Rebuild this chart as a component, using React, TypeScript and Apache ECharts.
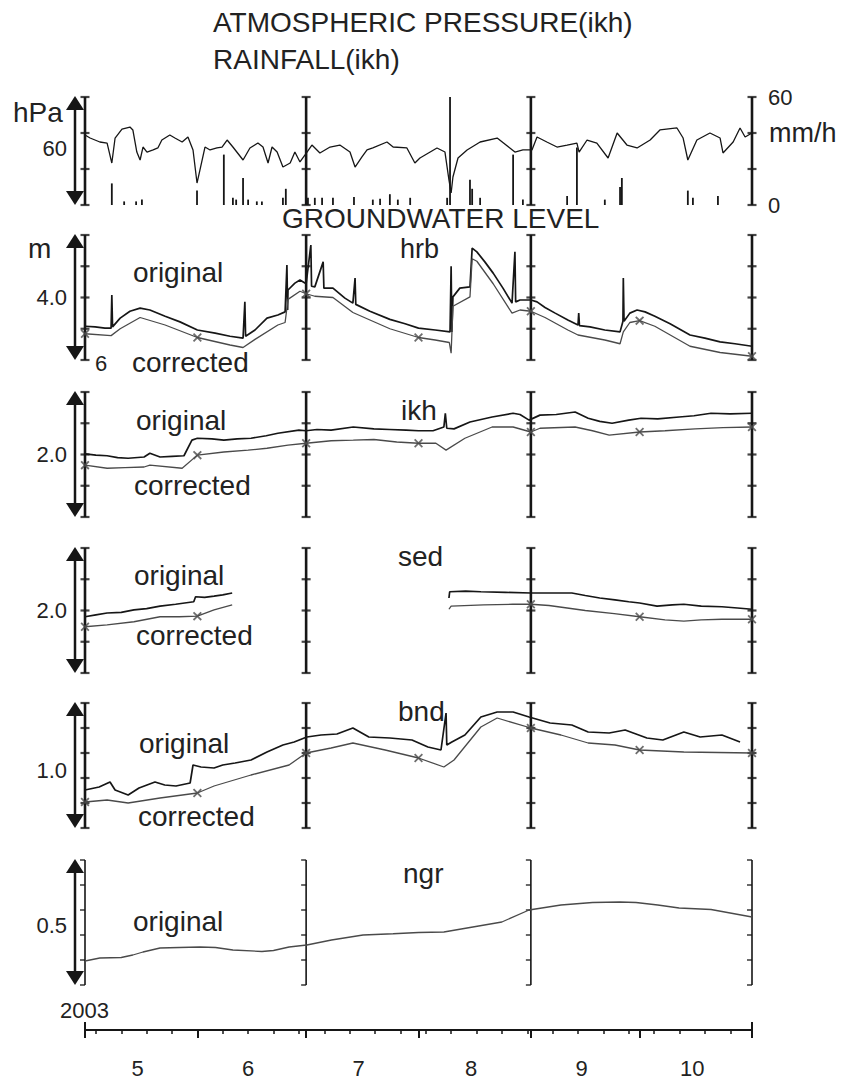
import React, { useEffect, useRef } from "react";
import * as echarts from "echarts";

// ---------- axis / calendar (days since 1 May 2003) ----------
const monthStarts = [0, 31, 61, 92, 123, 153, 184];
const monthMid = [14.5, 45, 75.5, 106.5, 137, 167.5];
const monthLabels = ["5", "6", "7", "8", "9", "10"];
const sundays: number[] = [];
for (let d = 3; d <= 184; d += 7) sundays.push(d);
const barDays = [0, 61, 123, 184];

// ---------- top panel ----------
const pressure: number[][] = [
  [0, 73.9], [1.4, 70.7], [4.1, 66.5], [6.1, 65.4], [7.4, 44.3], [8.3, 70.7], [10.2, 80.2], [12.4, 82.3],
  [13.2, 79.2], [14.3, 55.9], [15.2, 47.5], [16, 61.2], [17.1, 55.9], [18.8, 58.1], [20.1, 60.2], [21.2, 68.6],
  [23.4, 73.9], [24.8, 70.7], [26.8, 66.5], [28.4, 71.8], [29.8, 58.1], [30.9, 23.2], [31.7, 36.9], [33.1, 61.2],
  [34.5, 58.1], [36.4, 60.2], [37.8, 61.2], [39.2, 68.6], [40.8, 61.2], [43.6, 47.5], [45.5, 60.2], [47.7, 65.4],
  [49.1, 61.2], [50.5, 44.3], [51.6, 61.2], [53, 55.9], [54.6, 40.1], [56.6, 44.3], [57.9, 55.9], [59.3, 45.4],
  [60.7, 52.8], [62.6, 63.3], [64.8, 54.9], [67.6, 61.2], [70.3, 63.3], [73.1, 55.9], [74.5, 40.1], [76.4, 50.7],
  [77.8, 58.1], [79.4, 60.2], [83.3, 66.5], [85, 61.2], [88.8, 60.2], [91, 44.3], [92.4, 49.6], [97.1, 60.2],
  [99.3, 55.9], [100.4, 26.4], [101, 12.7], [101.5, 29.6], [102.9, 49.6], [105.4, 58.1], [109, 66.5], [113.7, 70.7],
  [117.2, 60.2], [118.6, 55.9], [120.8, 58.1], [123.3, 58.1], [124.7, 71.8], [127.4, 66.5], [130.2, 61.2], [133, 63.3],
  [135.7, 65.4], [136.3, 55.9], [138.5, 68.6], [141.2, 65.4], [144.3, 49.6], [146.8, 76.0], [149.5, 63.3], [152.3, 60.2],
  [155.9, 68.6], [158.6, 79.2], [163.3, 81.3], [165, 70.7], [166.3, 47.5], [168.8, 68.6], [172.4, 76.0], [175.2, 70.7],
  [176, 54.9], [178.8, 66.5], [180.7, 81.3], [182.1, 71.8], [184, 76.0],
];
const rainfall: number[][] = [
  [7.4, 12], [10.8, 2], [14.1, 2], [15.7, 3], [30.9, 8], [38.3, 28], [40.8, 4], [41.7, 3], [43.6, 15], [45, 3],
  [47.4, 2], [48.8, 2], [54.6, 4], [55.4, 9], [61.5, 4], [63.4, 4], [65.4, 4], [68.4, 4], [74.2, 4.5], [79.4, 3],
  [81.4, 3.5], [84.1, 6], [86.3, 3], [89.7, 4], [99.9, 4], [100.7, 60], [106.2, 14], [106.8, 9], [109, 4],
  [118.1, 28], [120.8, 3], [133, 5], [135.7, 32], [143.4, 3], [147.6, 10], [148.1, 15], [166.3, 8], [167.7, 4],
  [174.6, 5],
];

// ---------- groundwater ----------
const hrbOriginal: number[][] = [
  [0, 3.54], [2.8, 3.53], [5.5, 3.51], [7.2, 3.51], [7.4, 4.04], [7.6, 3.53], [9.7, 3.67], [12.4, 3.78], [15.2, 3.83],
  [17.9, 3.8], [22.1, 3.7], [26.2, 3.61], [31, 3.48], [35.9, 3.43], [40, 3.38], [43.6, 3.35], [44.1, 3.93], [44.3, 3.38],
  [46.9, 3.48], [50.2, 3.67], [53.2, 3.72], [55.2, 3.77], [55.7, 4.52], [55.9, 3.8], [56, 4.12], [57.9, 4.23],
  [59.3, 4.28], [61, 4.22], [62.3, 4.84], [62.5, 4.18], [63.4, 4.17], [65.7, 4.57], [65.9, 4.15], [68.4, 4.15],
  [71.7, 3.99], [73.9, 3.91], [74.5, 4.31], [74.7, 3.89], [78.6, 3.78], [84.1, 3.65], [88.3, 3.58], [92, 3.51],
  [96.6, 3.48], [100.7, 3.45], [101, 4.5], [101.2, 3.45], [101.5, 4.01], [103.4, 4.15], [106.2, 4.17], [106.8, 4.79],
  [108.1, 4.73], [110.3, 4.57], [112.6, 4.39], [115.3, 4.15], [117.8, 3.91], [118.6, 4.73], [118.8, 3.93], [120, 3.96],
  [123, 3.96], [124.7, 3.93], [126.9, 3.84], [129.7, 3.75], [133.2, 3.64], [136, 3.56], [136.2, 3.75], [136.4, 3.55],
  [139.3, 3.53], [143.4, 3.48], [147.6, 3.45], [148.4, 3.62], [148.5, 4.31], [148.7, 3.62], [150.3, 3.75], [152.3, 3.8],
  [154.5, 3.77], [157.2, 3.7], [161.4, 3.58], [166.9, 3.4], [171, 3.35], [175.2, 3.29], [179.3, 3.26], [184, 3.22],
];
const hrbCorrected: number[][] = [
  [0, 3.42], [7.2, 3.39], [9.7, 3.5], [15.2, 3.68], [22.1, 3.56], [31, 3.36], [40, 3.24], [43.6, 3.2], [46.9, 3.33],
  [53.2, 3.56], [55.2, 3.6], [56, 3.97], [59.3, 4.1], [61, 4.06], [63.4, 4.02], [68.4, 4.0], [73.9, 3.76], [78.6, 3.64],
  [84.1, 3.5], [92, 3.36], [96.6, 3.32], [100.5, 3.28], [101, 3.11], [101.5, 3.86], [106.2, 4.01], [106.8, 4.62],
  [108.1, 4.58], [112.6, 4.22], [117.8, 3.75], [120, 3.8], [123, 3.78], [126.9, 3.68], [133.2, 3.48], [136, 3.4],
  [143.4, 3.32], [147.6, 3.26], [148.5, 3.45], [150.3, 3.6], [153, 3.63], [157.2, 3.54], [166.9, 3.22], [175.2, 3.12],
  [184, 3.06],
];
const ikhOriginal: number[][] = [
  [0, 2.01], [3, 1.99], [6.1, 1.98], [9, 1.95], [11.9, 1.94], [16.3, 1.96], [17.9, 2.02], [20.7, 1.96], [24, 1.97],
  [27.3, 1.98], [29.5, 2.23], [31, 2.26], [35, 2.25], [38.3, 2.23], [42, 2.25], [45.8, 2.26], [50, 2.3], [53.2, 2.34],
  [59, 2.39], [61, 2.38], [64, 2.4], [67.9, 2.39], [74, 2.44], [79.7, 2.41], [84, 2.4], [88.6, 2.39], [92, 2.38],
  [96, 2.38], [99, 2.44], [99.4, 2.66], [99.8, 2.42], [101.8, 2.41], [106.2, 2.52], [112.3, 2.6], [118.1, 2.66],
  [120, 2.64], [122.5, 2.55], [125.5, 2.63], [130, 2.64], [135.2, 2.68], [138.8, 2.58], [142, 2.53], [145.4, 2.5],
  [150, 2.55], [153.4, 2.58], [158, 2.57], [163.9, 2.6], [168, 2.62], [172.7, 2.66], [178, 2.65], [184, 2.66],
];
const ikhCorrected: number[][] = [
  [0, 1.83], [6.1, 1.78], [11, 1.79], [16.3, 1.8], [17.9, 1.83], [26.8, 1.78], [31, 1.99], [38.3, 2.04], [45, 2.07],
  [50.2, 2.1], [56, 2.15], [61, 2.18], [67.9, 2.22], [74, 2.23], [79.7, 2.24], [86, 2.2], [92, 2.18], [96.8, 2.18],
  [99.6, 2.07], [104.8, 2.26], [112.3, 2.44], [118.1, 2.44], [123, 2.36], [125.5, 2.42], [135.2, 2.44], [140, 2.38],
  [144.6, 2.31], [153, 2.36], [160, 2.38], [168.3, 2.41], [176, 2.43], [184, 2.44],
];
const sedOriginalMay: number[][] = [
  [0, 1.9], [3, 1.93], [6.1, 1.96], [10, 1.97], [13.5, 2.01], [17, 2.03], [20.7, 2.07], [25, 2.1], [30, 2.14],
  [30.5, 2.22], [33, 2.21], [35.6, 2.23], [38, 2.25], [40.6, 2.28],
];
const sedOriginalAug: number[][] = [
  [100.4, 2.2], [100.6, 2.3], [105, 2.31], [109.2, 2.3], [116, 2.29], [123, 2.28], [128, 2.28], [134.3, 2.28],
  [138, 2.24], [142, 2.2], [146.2, 2.17], [150, 2.14], [153, 2.12], [157.8, 2.07], [162, 2.09], [165.2, 2.1],
  [170, 2.07], [175.7, 2.06], [180, 2.04], [184, 2.02],
];
const sedCorrectedMay: number[][] = [
  [0, 1.74], [6.1, 1.77], [13.5, 1.82], [20.7, 1.9], [26, 1.9], [31, 1.91], [35.6, 2.01], [40.6, 2.09],
];
const sedCorrectedAug: number[][] = [
  [100.4, 2.02], [101, 2.07], [110, 2.09], [118, 2.1], [123, 2.1], [128, 2.08], [133, 2.04], [138, 2.0], [146, 1.95],
  [153, 1.9], [160, 1.85], [165.2, 1.83], [170, 1.85], [175.7, 1.86], [184, 1.86],
];
const bndOriginal: number[][] = [
  [0, 0.8], [3.9, 0.83], [6.9, 0.88], [8.3, 0.8], [11.9, 0.75], [14.9, 0.82], [19.3, 0.88], [22, 0.85], [25.1, 0.84],
  [29, 0.87], [29.8, 1.05], [32, 1.03], [35.6, 1.02], [38, 1.05], [41.4, 1.07], [45.8, 1.1], [50.2, 1.18],
  [54.6, 1.25], [57.7, 1.28], [61.2, 1.33], [65.1, 1.35], [69.5, 1.36], [73.9, 1.42], [78.3, 1.33], [84.1, 1.32],
  [90.2, 1.3], [94.6, 1.23], [98.2, 1.2], [99.6, 1.57], [99.8, 1.25], [101.2, 1.28], [104.8, 1.35], [109.2, 1.53],
  [113.7, 1.58], [118.1, 1.58], [122.5, 1.53], [128.3, 1.47], [134.3, 1.45], [138.8, 1.38], [144.6, 1.37], [149, 1.4],
  [155, 1.32], [159.4, 1.3], [165.2, 1.38], [169.7, 1.33], [175.7, 1.35], [180.7, 1.28],
];
const bndCorrected: number[][] = [
  [0, 0.68], [6.1, 0.7], [11.9, 0.67], [20.7, 0.72], [31, 0.77], [35.6, 0.84], [45.8, 0.95], [56.3, 1.05], [61, 1.17],
  [67.9, 1.22], [73.9, 1.27], [82.8, 1.2], [92, 1.12], [99, 1.03], [101.8, 1.1], [109.2, 1.43], [113.7, 1.52],
  [123, 1.42], [131.3, 1.35], [138.8, 1.27], [146.2, 1.25], [153, 1.2], [165.2, 1.18], [184, 1.17],
];
const ngrOriginal: number[][] = [
  [0, 0.356], [4.1, 0.368], [10, 0.37], [13.2, 0.38], [16, 0.392], [20.7, 0.408], [26, 0.41], [31.7, 0.412],
  [36, 0.41], [40.8, 0.4], [48.8, 0.394], [52, 0.398], [56.3, 0.412], [61.2, 0.42], [68, 0.44], [76.7, 0.46],
  [85, 0.465], [92, 0.47], [99, 0.472], [106.2, 0.49], [115, 0.512], [122.5, 0.56], [131.3, 0.58], [140, 0.59],
  [147.6, 0.592], [152, 0.59], [158, 0.58], [163.9, 0.568], [172.7, 0.562], [184, 0.532],
];

// ---------- layout ----------
const FONT = '"Liberation Sans", Arial, Helvetica, sans-serif';
const INK = "#161616";
const GRAY = "#4a4a4a";
const PANELS = [
  { top: 97, height: 108 },
  { top: 235, height: 125 },
  { top: 392, height: 125 },
  { top: 548, height: 125 },
  { top: 703, height: 125 },
  { top: 860, height: 125 },
];
const Y_AXES = [
  { grid: 0, min: 0, max: 114, labels: [60], pos: "left", fmt: (v: number) => String(v), ticks: null as number[] | null },
  { grid: 0, min: 0, max: 60, labels: [0, 60], pos: "right", fmt: (v: number) => String(v), ticks: [0, 20, 40, 60] },
  { grid: 1, min: 3, max: 5, labels: [4], pos: "left", fmt: (v: number) => v.toFixed(1), ticks: [3, 3.5, 4, 4.5, 5] },
  { grid: 2, min: 1, max: 3, labels: [2], pos: "left", fmt: (v: number) => v.toFixed(1), ticks: [1, 1.5, 2, 2.5, 3] },
  { grid: 3, min: 1, max: 3, labels: [2], pos: "left", fmt: (v: number) => v.toFixed(1), ticks: [1, 1.5, 2, 2.5, 3] },
  { grid: 4, min: 0.42, max: 1.67, labels: [1], pos: "left", fmt: (v: number) => v.toFixed(1), ticks: [0.42, 0.67, 0.92, 1.17, 1.42, 1.67] },
  { grid: 5, min: 0.26, max: 0.76, labels: [0.5], pos: "left", fmt: (v: number) => v.toFixed(1), ticks: [0.26, 0.36, 0.46, 0.56, 0.66, 0.76] },
];
const TEXTS: [string, number, number, number][] = [
  ["ATMOSPHERIC PRESSURE(ikh)", 213, 22, 28],
  ["RAINFALL(ikh)", 213, 59, 28],
  ["hPa", 13, 112, 28],
  ["mm/h", 769, 133, 27],
  ["GROUNDWATER LEVEL", 282, 218, 28],
  ["m", 28, 248, 28],
  ["hrb", 400, 249, 27],
  ["original", 133, 272, 28],
  ["6", 95, 363, 22],
  ["corrected", 132, 362, 28],
  ["original", 136, 420, 28],
  ["ikh", 401, 410, 28],
  ["corrected", 134, 485, 28],
  ["sed", 398, 556, 28],
  ["original", 134, 575, 28],
  ["corrected", 136, 635, 28],
  ["bnd", 398, 711, 28],
  ["original", 139, 743, 28],
  ["corrected", 138, 816, 28],
  ["ngr", 403, 873, 28],
  ["original", 133, 921, 28],
  ["2003", 60, 1010, 22],
];
const XMARK = "path://M0,1.4L1.4,0L5,3.6L8.6,0L10,1.4L6.4,5L10,8.6L8.6,10L5,6.4L1.4,10L0,8.6L3.6,5Z";

function buildOption() {
  const grid = PANELS.map((p) => ({ left: 85, right: 91, top: p.top, height: p.height, containLabel: false, outerBoundsMode: "none" }));

  const xAxis: any[] = PANELS.map((_, i) => ({ type: "value", gridIndex: i, min: 0, max: 184, show: false }));
  const bottomBase = { type: "value", gridIndex: 5, min: 0, max: 184, position: "bottom", offset: 45, splitLine: { show: false } };
  xAxis.push({
    ...bottomBase,
    axisLine: { show: true, lineStyle: { color: INK, width: 2 } },
    axisTick: { show: true, customValues: sundays, length: 4, lineStyle: { color: INK, width: 1.5 } },
    axisLabel: { show: false },
  });
  xAxis.push({
    ...bottomBase,
    axisLine: { show: false },
    axisTick: { show: true, customValues: monthStarts, length: 8, lineStyle: { color: INK, width: 2 } },
    axisLabel: {
      show: true,
      customValues: monthMid,
      formatter: (v: number) => monthLabels[monthMid.indexOf(v)] ?? "",
      fontSize: 22,
      fontFamily: FONT,
      color: "#222",
      margin: 27,
    },
  });
  xAxis.push({
    ...bottomBase,
    axisLine: { show: false },
    axisTick: { show: true, inside: true, customValues: [0, 184], length: 8, lineStyle: { color: INK, width: 2 } },
    axisLabel: { show: false },
  });

  const yAxis = Y_AXES.map((a) => ({
    type: "value",
    gridIndex: a.grid,
    min: a.min,
    max: a.max,
    position: a.pos,
    axisLine: { show: false },
    axisTick: { show: false },
    splitLine: { show: false },
    axisLabel: {
      show: true,
      customValues: a.labels,
      formatter: a.fmt,
      fontSize: 22,
      fontFamily: FONT,
      color: "#222",
      margin: a.pos === "right" ? 16 : 18,
    },
  }));

  const series: any[] = [];
  // frame bars with ticks
  Y_AXES.forEach((a, yi) => {
    if (!a.ticks) return;
    const thin = a.grid === 5;
    barDays.forEach((d) => {
      series.push({
        type: "line", xAxisIndex: a.grid, yAxisIndex: yi, data: [[d, a.min], [d, a.max]],
        symbol: "none", silent: true, clip: false, z: 1,
        lineStyle: { color: INK, width: thin ? 1.6 : 2.6 },
      });
    });
    series.push({
      type: "scatter", xAxisIndex: a.grid, yAxisIndex: yi, silent: true, clip: false, z: 2,
      data: barDays.flatMap((d) => a.ticks!.map((t) => [d, t])),
      symbol: "rect", symbolSize: thin ? [5, 1.6] : [9, 2.2], symbolOffset: thin ? [-2.5, 0] : [0, 0],
      itemStyle: { color: INK },
    });
  });

  // top panel
  series.push({ type: "line", xAxisIndex: 0, yAxisIndex: 0, data: pressure, symbol: "none", clip: false, lineStyle: { color: INK, width: 1.3 }, z: 3 });
  series.push({ type: "bar", xAxisIndex: 0, yAxisIndex: 1, data: rainfall, barWidth: 1.8, itemStyle: { color: INK }, z: 3 });

  const addLine = (grid: number, yi: number, data: number[][], color: string, width: number) =>
    series.push({ type: "line", xAxisIndex: grid, yAxisIndex: yi, data, symbol: "none", clip: false, z: 3, lineStyle: { color, width } });
  const addMarks = (grid: number, yi: number, data: number[][]) =>
    series.push({
      type: "scatter", xAxisIndex: grid, yAxisIndex: yi, clip: false, z: 4,
      data: data.filter((p) => monthStarts.includes(p[0])),
      symbol: XMARK, symbolSize: 9, itemStyle: { color: GRAY },
    });

  addLine(1, 2, hrbOriginal, INK, 1.7);
  addLine(1, 2, hrbCorrected, GRAY, 1.3);
  addMarks(1, 2, hrbCorrected);

  addLine(2, 3, ikhOriginal, INK, 1.7);
  addLine(2, 3, ikhCorrected, GRAY, 1.3);
  addMarks(2, 3, ikhCorrected);

  addLine(3, 4, sedOriginalMay, INK, 1.7);
  addLine(3, 4, sedOriginalAug, INK, 1.7);
  addLine(3, 4, sedCorrectedMay, GRAY, 1.3);
  addLine(3, 4, sedCorrectedAug, GRAY, 1.3);
  addMarks(3, 4, [...sedCorrectedMay, ...sedCorrectedAug]);

  addLine(4, 5, bndOriginal, INK, 1.7);
  addLine(4, 5, bndCorrected, GRAY, 1.3);
  addMarks(4, 5, bndCorrected);

  addLine(5, 6, ngrOriginal, GRAY, 1.3);

  // graphic: scale arrows and texts
  const graphic: any[] = [];
  PANELS.forEach((p) => {
    const t = p.top - 1;
    const b = p.top + p.height;
    graphic.push({ type: "line", silent: true, shape: { x1: 75, y1: t + 10, x2: 75, y2: b - 10 }, style: { stroke: INK, lineWidth: 2.5 } });
    graphic.push({ type: "polygon", silent: true, shape: { points: [[75, t], [66, t + 14], [84, t + 14]] }, style: { fill: INK } });
    graphic.push({ type: "polygon", silent: true, shape: { points: [[75, b], [66, b - 14], [84, b - 14]] }, style: { fill: INK } });
  });
  TEXTS.forEach(([text, x, y, size]) => {
    graphic.push({
      type: "text", silent: true, x, y,
      style: { text, fill: "#222", font: `${size}px ${FONT}`, fontSize: size, fontFamily: FONT, textAlign: "left", textVerticalAlign: "middle" },
    });
  });

  return { animation: false, backgroundColor: "#fff", grid, xAxis, yAxis, series, graphic };
}

export default function App() {
  const ref = useRef<HTMLDivElement>(null);
  useEffect(() => {
    const chart = echarts.init(ref.current!, null, { renderer: "svg" });
    chart.setOption(buildOption() as any);
    return () => chart.dispose();
  }, []);
  return <div ref={ref} style={{ position: "absolute", left: 0, top: 0, width: 843, height: 1079, background: "#fff" }} />;
}
